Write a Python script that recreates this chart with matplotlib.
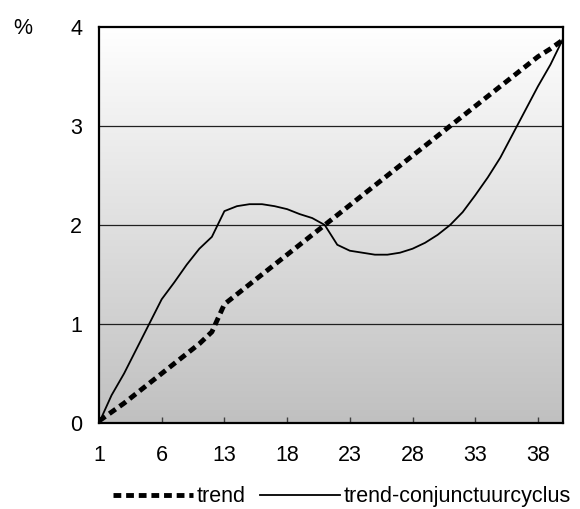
import matplotlib
matplotlib.use("Agg")
import matplotlib.pyplot as plt
import numpy as np

# waarden (38 perioden)
period_labels = ["1", "6", "13", "18", "23", "28", "33", "38"]
label_positions = [0, 5, 10, 15, 20, 25, 30, 35]

trend = [0.02, 0.11, 0.2, 0.3, 0.4, 0.5, 0.6, 0.7, 0.8, 0.92,
         1.2, 1.3, 1.4, 1.5, 1.6, 1.7, 1.8, 1.9, 2.0, 2.1,
         2.2, 2.3, 2.4, 2.5, 2.6, 2.7, 2.8, 2.9, 3.0, 3.1,
         3.2, 3.3, 3.4, 3.5, 3.6, 3.7, 3.78, 3.87]

cycle = [0.0, 0.28, 0.5, 0.75, 1.0, 1.25, 1.42, 1.6, 1.76, 1.88,
         2.14, 2.19, 2.21, 2.21, 2.19, 2.16, 2.11, 2.07, 2.0, 1.8,
         1.74, 1.72, 1.7, 1.7, 1.72, 1.76, 1.82, 1.9, 2.0, 2.13,
         2.3, 2.48, 2.68, 2.92, 3.16, 3.4, 3.62, 3.88]

plt.rcParams["font.family"] = ["Liberation Sans", "DejaVu Sans"]
FS = 15.5

fig = plt.figure(figsize=(5.8, 5.09), dpi=100)
ax = fig.add_axes([0.1707, 0.169, 0.8, 0.778])

x = np.arange(len(trend))
xmax = len(trend) - 1

# verloop van wit (boven) naar grijs (onder)
grad = np.linspace(1.0, 0.0, 256).reshape(-1, 1)
ax.imshow(grad, aspect="auto", cmap=matplotlib.colors.LinearSegmentedColormap.from_list(
    "bg", ["#c0c0c0", "#ffffff"]), extent=[0, xmax, 0, 4], origin="upper",
    vmin=0, vmax=1, zorder=0)

for yv in [1, 2, 3]:
    ax.axhline(yv, color="#202020", linewidth=0.9, zorder=1)

ax.plot(x, trend, color="black", linewidth=3.5, linestyle=(0, (1.6, 1.0)),
        label="trend", zorder=3)
ax.plot(x, cycle, color="black", linewidth=1.3, label="trend-conjunctuurcyclus",
        zorder=3)

ax.set_xlim(0, xmax)
ax.set_ylim(0, 4)
ax.set_xticks(label_positions)
ax.set_xticklabels(period_labels)
ax.set_yticks([0, 1, 2, 3, 4])
ax.tick_params(axis="x", direction="in", length=4, width=1, color="#404040",
               labelsize=FS, pad=16)
ax.tick_params(axis="y", length=0, labelsize=FS, pad=12)
for sp in ax.spines.values():
    sp.set_linewidth(1.6)
    sp.set_color("black")

fig.text(0.022, 0.944, "%", fontsize=FS, va="center")

fig.legend(loc="lower center", bbox_to_anchor=(0.59, -0.035), ncol=2,
           frameon=False, fontsize=FS, handlelength=3.7, handletextpad=0.2,
           columnspacing=0.65)

fig.savefig("out.png", dpi=100)
